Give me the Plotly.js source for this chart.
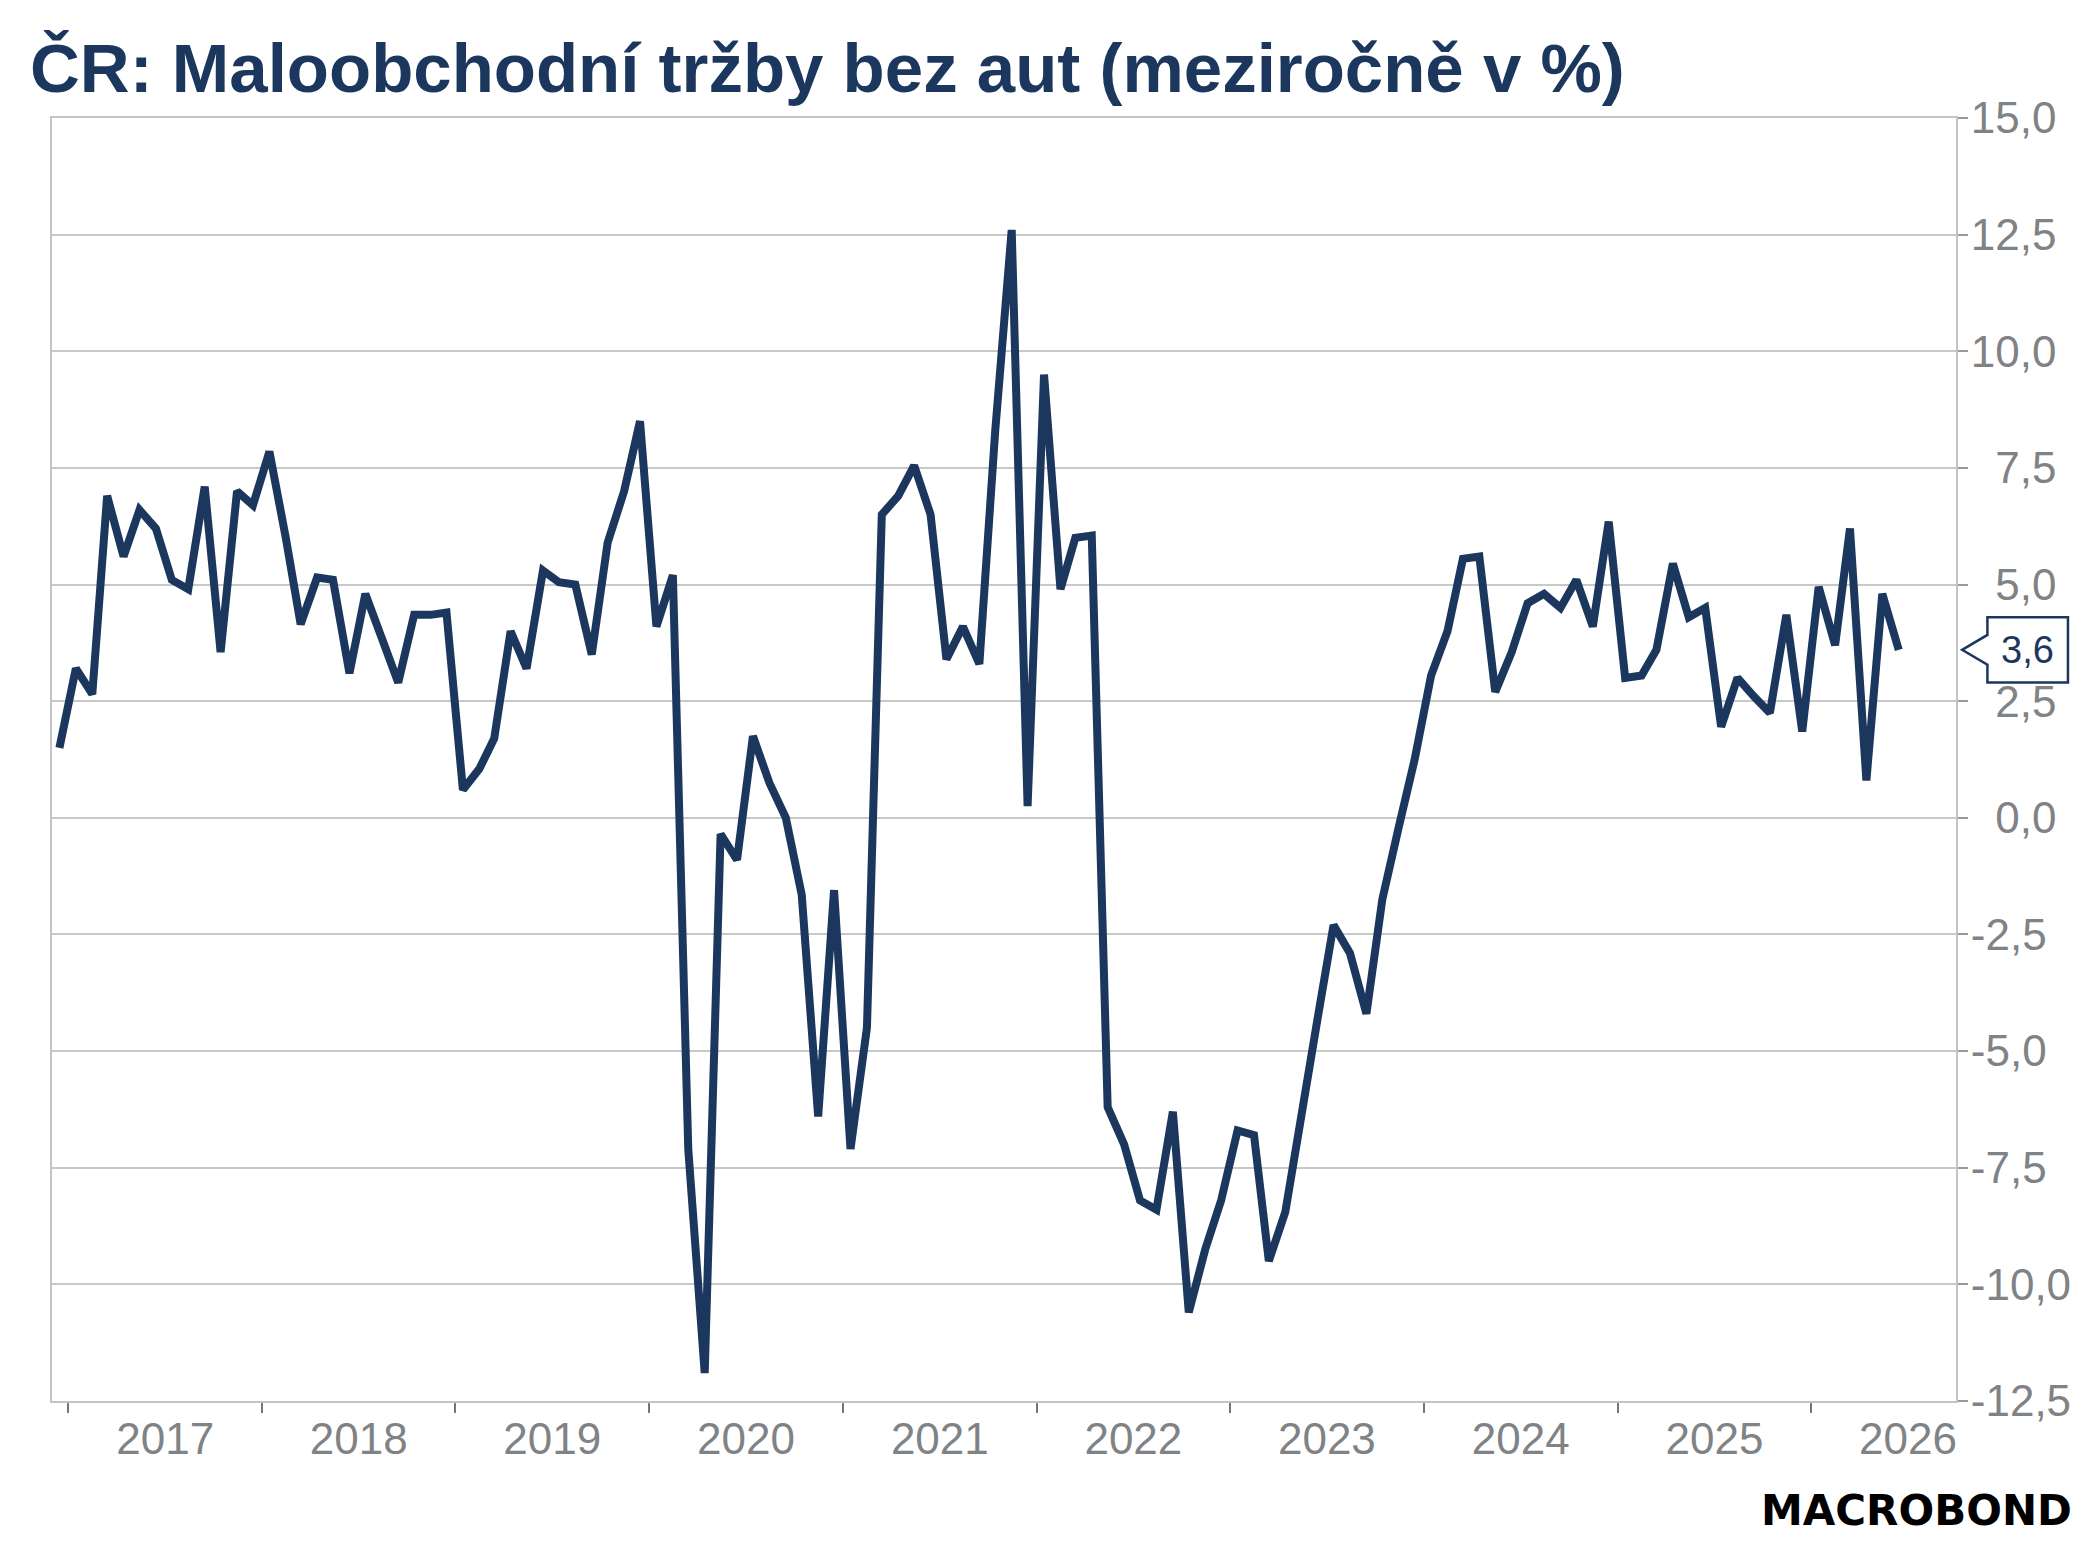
<!DOCTYPE html>
<html>
<head>
<meta charset="utf-8">
<script src="https://cdn.plot.ly/plotly-3.0.1.min.js"></script>
<style>
  html, body { margin: 0; padding: 0; background: #fff; }
  #chart { width: 2093px; height: 1568px; }
</style>
</head>
<body>
<div id="chart"></div>
<script>
// mesicni data, prvni hodnota = prosinec 2016
var firstMonth = [2016, 12];
var retailYoY = [
  1.5, 3.2, 2.65, 6.9, 5.6, 6.6, 6.2, 5.1, 4.9, 7.1, 3.55, 7.0, 6.7,      // 2016-12 .. 2017-12
  7.85, 6.0, 4.15, 5.15, 5.1, 3.1, 4.8, 3.85, 2.9, 4.35, 4.35, 4.4,        // 2018
  0.6, 1.05, 1.7, 4.0, 3.2, 5.3, 5.05, 5.0, 3.5, 5.9, 7.0, 8.5,            // 2019
  4.1, 5.2, -7.1, -11.9, -0.35, -0.9, 1.75, 0.75, 0.0, -1.65, -6.4, -1.55, // 2020
  -7.1, -4.5, 6.5, 6.9, 7.55, 6.5, 3.4, 4.1, 3.3, 8.3, 12.6, 0.25,         // 2021
  9.5, 4.9, 6.0, 6.05, -6.2, -7.0, -8.2, -8.4, -6.3, -10.6, -9.25, -8.2,   // 2022
  -6.7, -6.8, -9.5, -8.45, -6.3, -4.3, -2.3, -2.9, -4.2, -1.75, -0.2, 1.25, // 2023
  3.05, 4.0, 5.55, 5.6, 2.7, 3.55, 4.6, 4.8, 4.5, 5.1, 4.1, 6.35,          // 2024
  3.0, 3.05, 3.6, 5.45, 4.3, 4.5, 1.95, 3.0, 2.6, 2.25, 4.35, 1.85,        // 2025
  4.95, 3.7, 6.2, 0.8, 4.8, 3.6                                            // 2026
];
var yTickVals = [-12.5, -10, -7.5, -5, -2.5, 0, 2.5, 5, 7.5, 10, 12.5, 15];
var yTickText = ['-12,5', '-10,0', '-7,5', '-5,0', '-2,5', '\u20070,0', '\u20072,5', '\u20075,0', '\u20077,5', '10,0', '12,5', '15,0'];

var navy = '#1c375e';
var grey = '#7f8386';

// datumy - polovina mesice
var dates = [];
for (var i = 0; i < retailYoY.length; i++) {
  var y = firstMonth[0] + Math.floor((firstMonth[1] - 1 + i) / 12);
  var m = (firstMonth[1] - 1 + i) % 12 + 1;
  dates.push(y + '-' + (m < 10 ? '0' + m : m) + '-15');
}

var last = retailYoY[retailYoY.length - 1];
var lastTxt = last.toFixed(1).replace('.', ',');

var trace = {
  x: dates,
  y: retailYoY,
  type: 'scatter',
  mode: 'lines',
  line: { color: navy, width: 8 },
  hoverinfo: 'skip'
};

// vlajka s posledni hodnotou vpravo od osy
var bx0 = 1.0032, bx1 = 1.0165, bx2 = 1.0588, bh = 0.70, ph = 0.32;
var flagPath = 'M ' + bx0 + ',' + last +
  ' L ' + bx1 + ',' + (last + ph) +
  ' L ' + bx1 + ',' + (last + bh) +
  ' L ' + bx2 + ',' + (last + bh) +
  ' L ' + bx2 + ',' + (last - bh) +
  ' L ' + bx1 + ',' + (last - bh) +
  ' L ' + bx1 + ',' + (last - ph) + ' Z';

var layout = {
  width: 2093,
  height: 1568,
  margin: { l: 52, r: 137, t: 118, b: 167 },
  paper_bgcolor: '#fff',
  plot_bgcolor: '#fff',
  showlegend: false,
  font: { family: 'Liberation Sans, Arial, sans-serif', color: grey },
  title: {
    text: '<b>ČR: Maloobchodní tržby bez aut (meziročně v %)</b>',
    xref: 'container', x: 30 / 2093, xanchor: 'left',
    yref: 'container', y: 0.957, yanchor: 'middle',
    font: { family: 'Liberation Sans, Arial, sans-serif', size: 69, color: navy }
  },
  xaxis: {
    type: 'date',
    range: ['2016-12-01', '2026-10-01'],
    tick0: '2017-01-01',
    dtick: 'M12',
    tickformat: '%Y',
    ticklabelmode: 'period',
    ticks: 'outside',
    ticklen: 10,
    tickwidth: 2,
    tickcolor: '#777',
    showgrid: false,
    zeroline: false,
    showline: true,
    linecolor: '#c4c4c4',
    linewidth: 2,
    mirror: true,
    ticklabelstandoff: -12,
    tickfont: { size: 44, color: grey }
  },
  yaxis: {
    side: 'right',
    range: [-12.5, 15],
    tickvals: yTickVals,
    ticktext: yTickText,
    ticks: 'outside',
    ticklen: 10,
    tickwidth: 2,
    tickcolor: '#999',
    showgrid: true,
    gridcolor: '#c8c8c8',
    gridwidth: 2,
    zeroline: false,
    showline: true,
    linecolor: '#c4c4c4',
    linewidth: 2,
    mirror: true,
    ticklabelstandoff: -6,
    tickfont: { size: 44, color: grey }
  },
  shapes: [{
    type: 'path',
    xref: 'paper', yref: 'y',
    path: flagPath,
    fillcolor: '#fff',
    line: { color: navy, width: 2.5 }
  }],
  annotations: [
    {
      xref: 'paper', yref: 'y',
      x: (bx1 + bx2) / 2, y: last,
      text: lastTxt,
      showarrow: false,
      xanchor: 'center', yanchor: 'middle',
      font: { size: 38, color: navy }
    },
    {
      xref: 'paper', yref: 'paper',
      x: 1.062, y: -0.085,
      text: '<b>MACROBOND</b>',
      showarrow: false,
      xanchor: 'right', yanchor: 'middle',
      font: { family: 'DejaVu Sans, sans-serif', size: 42, color: '#000' }
    }
  ]
};

Plotly.newPlot('chart', [trace], layout, { displayModeBar: false, staticPlot: true });
</script>
</body>
</html>
